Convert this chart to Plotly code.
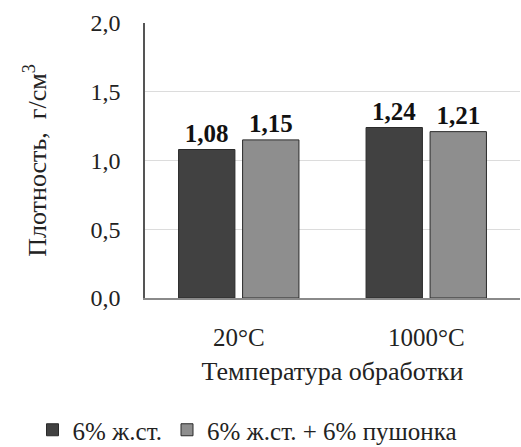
import plotly.graph_objects as go

# Density of samples by treatment temperature
categories = ["20°C", "1000°C"]
series_names = ["6% ж.ст.", "6% ж.ст. + 6% пушонка"]
series_values = [
    [1.08, 1.24],
    [1.15, 1.21],
]
series_colors = ["#414141", "#8e8e8e"]

y_ticks = [0.0, 0.5, 1.0, 1.5, 2.0]

serif = "Liberation Serif, Times New Roman, serif"

fig = go.Figure()
for name, vals, color in zip(series_names, series_values, series_colors):
    fig.add_trace(go.Bar(
        x=categories,
        y=vals,
        name=name,
        marker=dict(color=color, line=dict(color="#2a2a2a", width=1)),
        texttemplate="<b>%{y:.2f}</b>",
        textposition="outside",
        textfont=dict(family=serif, size=25, color="#111111"),
        cliponaxis=False,
    ))

fig.update_layout(
    width=521,
    height=447,
    margin=dict(l=145, r=1, t=23, b=149, autoexpand=False),
    paper_bgcolor="white",
    plot_bgcolor="white",
    separators=", ",
    barmode="group",
    bargap=0.317,
    bargroupgap=0.12,
    font=dict(family=serif, size=24, color="#222222"),
    xaxis=dict(
        showline=True,
        linecolor="#8a8a8a",
        linewidth=1.5,
        ticks="",
        ticklabelstandoff=16,
        tickfont=dict(family=serif, size=25),
        title=dict(text="Температура обработки", font=dict(family=serif, size=26), standoff=12),
        automargin=False,
    ),
    yaxis=dict(
        range=[0, 2.0],
        tickvals=y_ticks,
        tickformat=".1f",
        showline=True,
        linecolor="#555555",
        linewidth=1.5,
        showgrid=True,
        gridcolor="#dcdcdc",
        gridwidth=1,
        zeroline=False,
        ticks="",
        ticklabelstandoff=18,
        tickfont=dict(family=serif, size=24),
        title=dict(text="Плотность,  г/см<sup>3</sup>", font=dict(family=serif, size=26), standoff=36),
        automargin=False,
    ),
    legend=dict(
        orientation="h",
        x=-0.30,
        xanchor="left",
        y=-0.48,
        yanchor="middle",
        font=dict(family=serif, size=25),
        itemwidth=30,
        tracegroupgap=0,
    ),
)

fig.write_html("out.html")
